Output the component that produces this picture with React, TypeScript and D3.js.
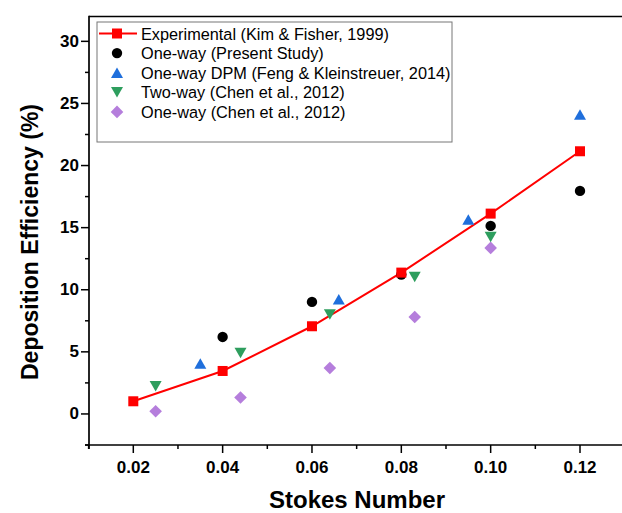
import React from "react";
import * as d3 from "d3";

const expX = [0.02, 0.04, 0.06, 0.08, 0.10, 0.12];
const expY = [1.02, 3.46, 7.06, 11.38, 16.13, 21.15];

const presentX = [0.04, 0.06, 0.08, 0.10, 0.12];
const presentY = [6.2, 9.02, 11.22, 15.14, 17.96];

const dpmX = [0.035, 0.066, 0.095, 0.12];
const dpmY = [4.06, 9.24, 15.65, 24.1];

const twoWayX = [0.025, 0.044, 0.064, 0.083, 0.10];
const twoWayY = [2.23, 4.91, 8.0, 11.03, 14.25];

const oneWayChenX = [0.025, 0.044, 0.064, 0.083, 0.10];
const oneWayChenY = [0.22, 1.32, 3.7, 7.81, 13.37];

const xTicks = [0.02, 0.04, 0.06, 0.08, 0.10, 0.12];
const xMinorTicks = [0.01, 0.03, 0.05, 0.07, 0.09, 0.11, 0.13];
const yTicks = [0, 5, 10, 15, 20, 25, 30];
const yMinorTicks = [-2.5, 2.5, 7.5, 12.5, 17.5, 22.5, 27.5];

const legendLabels = [
  "Experimental (Kim & Fisher, 1999)",
  "One-way (Present Study)",
  "One-way DPM (Feng & Kleinstreuer, 2014)",
  "Two-way (Chen et al., 2012)",
  "One-way (Chen et al., 2012)",
];

const RED = "#ff0000";
const BLACK = "#000000";
const BLUE = "#1f6fdc";
const GREEN = "#2e9e5e";
const PURPLE = "#b57edc";

const W = 622;
const H = 513;
const left = 89;
const top = 16.5;
const bottom = 445;

const FONT = "Arial, 'Liberation Sans', sans-serif";

function Marker({ kind, cx, cy, color }: { kind: string; cx: number; cy: number; color: string }) {
  if (kind === "square") {
    const s = 10;
    return <rect x={cx - s / 2} y={cy - s / 2} width={s} height={s} fill={color} />;
  }
  if (kind === "circle") {
    return <circle cx={cx} cy={cy} r={5.2} fill={color} />;
  }
  if (kind === "up") {
    const w = 12, h = 10.5;
    return (
      <path
        d={`M${cx},${cy - h / 2}L${cx + w / 2},${cy + h / 2}L${cx - w / 2},${cy + h / 2}Z`}
        fill={color}
      />
    );
  }
  if (kind === "down") {
    const w = 12, h = 10.5;
    return (
      <path
        d={`M${cx - w / 2},${cy - h / 2}L${cx + w / 2},${cy - h / 2}L${cx},${cy + h / 2}Z`}
        fill={color}
      />
    );
  }
  const r = 6.3;
  return (
    <path d={`M${cx},${cy - r}L${cx + r},${cy}L${cx},${cy + r}L${cx - r},${cy}Z`} fill={color} />
  );
}

export default function App() {
  const x = d3.scaleLinear().domain([0.02, 0.12]).range([133.3, 580]);
  const y = d3.scaleLinear().domain([-2.5, 32]).range([bottom, top]);

  const line = d3
    .line<number>()
    .x((_, i) => x(expX[i]))
    .y((d) => y(d));

  const series = [
    { xs: oneWayChenX, ys: oneWayChenY, kind: "diamond", color: PURPLE },
    { xs: twoWayX, ys: twoWayY, kind: "down", color: GREEN },
    { xs: dpmX, ys: dpmY, kind: "up", color: BLUE },
    { xs: presentX, ys: presentY, kind: "circle", color: BLACK },
    { xs: expX, ys: expY, kind: "square", color: RED },
  ];

  const legendItems = [
    { kind: "square", color: RED, line: true },
    { kind: "circle", color: BLACK, line: false },
    { kind: "up", color: BLUE, line: false },
    { kind: "down", color: GREEN, line: false },
    { kind: "diamond", color: PURPLE, line: false },
  ];

  const legX = 97;
  const legY = 22;
  const legW = 355;
  const legH = 120;
  const rowY0 = 33.5;
  const rowStep = 19.6;

  return (
    <svg
      width={W}
      height={H}
      style={{ position: "absolute", left: 0, top: 0, background: "#fff" }}
      fontFamily={FONT}
    >
      <rect x={0} y={0} width={W} height={H} fill="#fff" />

      {/* frame */}
      <line x1={left} x2={W + 10} y1={top} y2={top} stroke="#000" strokeWidth={1.7} />
      <line x1={left} x2={left} y1={top - 0.8} y2={bottom + 4} stroke="#000" strokeWidth={1.7} />
      <line x1={left - 4} x2={W + 10} y1={bottom} y2={bottom} stroke="#000" strokeWidth={1.7} />

      {/* y ticks */}
      {yTicks.map((t) => (
        <g key={"yt" + t}>
          <line x1={left - 8} x2={left} y1={y(t)} y2={y(t)} stroke="#000" strokeWidth={1.5} />
          <text
            x={left - 10}
            y={y(t)}
            textAnchor="end"
            dominantBaseline="central"
            fontSize={17}
            fontWeight="bold"
          >
            {t}
          </text>
        </g>
      ))}
      {yMinorTicks.map((t) => (
        <line key={"ym" + t} x1={left - 4} x2={left} y1={y(t)} y2={y(t)} stroke="#000" strokeWidth={1.5} />
      ))}

      {/* x ticks */}
      {xTicks.map((t) => (
        <g key={"xt" + t}>
          <line x1={x(t)} x2={x(t)} y1={bottom} y2={bottom + 8} stroke="#000" strokeWidth={1.5} />
          <text x={x(t)} y={bottom + 28} textAnchor="middle" fontSize={17} fontWeight="bold">
            {t.toFixed(2)}
          </text>
        </g>
      ))}
      {xMinorTicks.map((t) => (
        <line key={"xm" + t} x1={x(t)} x2={x(t)} y1={bottom} y2={bottom + 4} stroke="#000" strokeWidth={1.5} />
      ))}

      {/* axis titles */}
      <text x={357} y={508} textAnchor="middle" fontSize={24} fontWeight="bold">
        Stokes Number
      </text>
      <text
        transform={`translate(38, 242) rotate(-90)`}
        textAnchor="middle"
        fontSize={23}
        fontWeight="bold"
      >
        Deposition Efficiency (%)
      </text>

      {/* experimental line */}
      <path d={line(expY) || ""} fill="none" stroke={RED} strokeWidth={2} />

      {/* markers */}
      {series.map((s, si) =>
        s.ys.map((v, i) => (
          <Marker key={si + "-" + i} kind={s.kind} cx={x(s.xs[i])} cy={y(v)} color={s.color} />
        ))
      )}

      {/* legend */}
      <rect x={legX} y={legY} width={legW} height={legH} fill="#fff" stroke="#777" strokeWidth={1} />
      {legendItems.map((it, i) => {
        const cy = rowY0 + i * rowStep;
        return (
          <g key={"leg" + i}>
            {it.line && <line x1={99} x2={137} y1={cy} y2={cy} stroke={RED} strokeWidth={2} />}
            <Marker kind={it.kind} cx={117} cy={cy} color={it.color} />
            <text x={141} y={cy} dominantBaseline="central" fontSize={16.3}>
              {legendLabels[i]}
            </text>
          </g>
        );
      })}
    </svg>
  );
}
